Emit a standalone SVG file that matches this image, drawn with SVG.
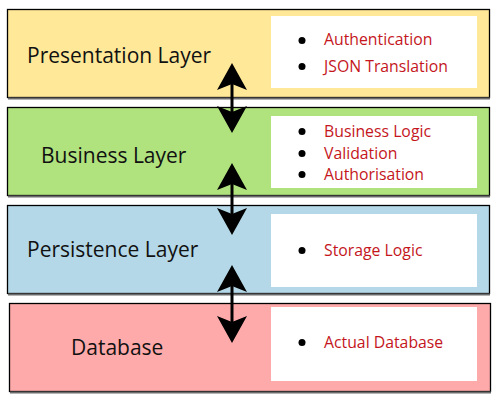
<svg xmlns="http://www.w3.org/2000/svg" width="500" height="400" viewBox="0 0 500 400">
<style>
.layer{stroke:#000;stroke-width:1.3}
.shadow{stroke:#6b6b6b;stroke-width:2}
.panel{fill:#fff}
.title{font-family:"Open Sans","Noto Sans",sans-serif;font-size:21px;fill:#111}
.item{font-family:"Open Sans","Noto Sans",sans-serif;font-size:15.8px;fill:#c4161c}
.dot{fill:#000}
.conn{stroke:#000;stroke-width:3;fill:none}
</style>
<defs>
<path id="headUp" d="M0,0 L15,27 L0,21 L-15,27 Z" fill="#000"/>
</defs>
<rect width="500" height="400" fill="#fff"/>
<g id="presentation">
<rect class="layer" x="7.5" y="9.5" width="482" height="88" fill="#ffe898"/>
<line class="shadow" x1="8" y1="98.5" x2="490" y2="98.5"/>
<rect class="panel" x="271" y="16" width="206" height="72"/>
<text class="title" x="27" y="63">Presentation Layer</text>
<circle class="dot" cx="302" cy="40.5" r="3.5"/>
<circle class="dot" cx="302" cy="66.5" r="3.5"/>
<text class="item" x="324" y="45">Authentication</text>
<text class="item" x="324" y="72">JSON Translation</text>
</g>
<g id="business">
<rect class="layer" x="7.5" y="107.5" width="482" height="88" fill="#b0e27e"/>
<line class="shadow" x1="8" y1="196.5" x2="490" y2="196.5"/>
<rect class="panel" x="271" y="116" width="206" height="72"/>
<text class="title" x="41" y="163">Business Layer</text>
<circle class="dot" cx="302" cy="131.5" r="3.5"/>
<circle class="dot" cx="302" cy="153.5" r="3.5"/>
<circle class="dot" cx="302" cy="174.5" r="3.5"/>
<text class="item" x="324" y="137">Business Logic</text>
<text class="item" x="324" y="159">Validation</text>
<text class="item" x="324" y="180">Authorisation</text>
</g>
<g id="persistence">
<rect class="layer" x="7.5" y="205.5" width="482" height="88" fill="#b4d8e7"/>
<line class="shadow" x1="8" y1="294.5" x2="490" y2="294.5"/>
<rect class="panel" x="271" y="214" width="206" height="73"/>
<text class="title" x="27" y="257">Persistence Layer</text>
<circle class="dot" cx="302" cy="250.5" r="3.5"/>
<text class="item" x="324" y="256">Storage Logic</text>
</g>
<g id="database">
<rect class="layer" x="9.5" y="303.5" width="481" height="88" fill="#ffaaaa"/>
<line class="shadow" x1="10" y1="392.5" x2="491" y2="392.5"/>
<rect class="panel" x="271" y="307" width="206" height="74"/>
<text class="title" x="71" y="355">Database</text>
<circle class="dot" cx="302" cy="342.5" r="3.5"/>
<text class="item" x="324" y="348">Actual Database</text>
</g>
<g id="connectors">
<line class="conn" x1="232" y1="80" x2="232" y2="116"/>
<use href="#headUp" transform="translate(232,63)"/>
<use href="#headUp" transform="translate(232,133) rotate(180)"/>
<line class="conn" x1="232" y1="180" x2="232" y2="218"/>
<use href="#headUp" transform="translate(232,163)"/>
<use href="#headUp" transform="translate(232,235) rotate(180)"/>
<line class="conn" x1="232" y1="282" x2="232" y2="326"/>
<use href="#headUp" transform="translate(232,265)"/>
<use href="#headUp" transform="translate(232,343) rotate(180)"/>
</g>
</svg>
